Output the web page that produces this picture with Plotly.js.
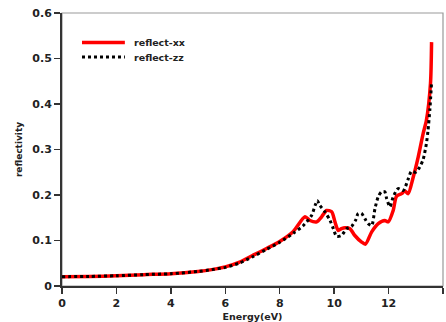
<!DOCTYPE html>
<html>
<head>
<meta charset="utf-8">
<script src="https://cdn.plot.ly/plotly-3.0.1.min.js"></script>
<style>html,body{margin:0;padding:0;background:#fff;}#chart{width:446px;height:322px;}</style>
</head>
<body>
<div id="chart"></div>
<script>
// Energy (eV) and reflectivity for each polarization
var energyXX = [0, 1, 2, 3, 4, 5, 5.5, 6, 6.5, 7, 7.5, 8, 8.5, 8.93, 9.11, 9.36, 9.54, 9.72, 9.91, 10.03, 10.15, 10.27, 10.4, 10.58, 10.76, 11.0, 11.15, 11.38, 11.62, 11.86, 11.99, 12.17, 12.29, 12.48, 12.6, 12.72, 12.9, 13.09, 13.27, 13.39, 13.54, 13.58];
var reflectXX = [0.0205, 0.021, 0.0225, 0.025, 0.027, 0.032, 0.036, 0.042, 0.052, 0.067, 0.082, 0.098, 0.120, 0.152, 0.144, 0.141, 0.152, 0.166, 0.163, 0.141, 0.122, 0.126, 0.128, 0.126, 0.111, 0.097, 0.092, 0.119, 0.137, 0.144, 0.141, 0.166, 0.197, 0.203, 0.209, 0.203, 0.238, 0.284, 0.335, 0.364, 0.445, 0.536];

var energyZZ = [0, 1, 2, 3, 4, 5, 5.5, 6, 6.5, 7, 7.5, 8, 8.5, 8.87, 9.17, 9.3, 9.38, 9.48, 9.66, 9.85, 9.97, 10.09, 10.27, 10.46, 10.64, 10.8, 10.88, 11.0, 11.13, 11.25, 11.38, 11.5, 11.62, 11.74, 11.86, 11.93, 12.05, 12.17, 12.35, 12.54, 12.72, 12.84, 13.0, 13.15, 13.27, 13.39, 13.45, 13.52, 13.58];
var reflectZZ = [0.0205, 0.021, 0.0225, 0.025, 0.027, 0.032, 0.036, 0.041, 0.050, 0.064, 0.080, 0.096, 0.116, 0.133, 0.155, 0.177, 0.188, 0.177, 0.163, 0.144, 0.126, 0.109, 0.111, 0.126, 0.131, 0.146, 0.159, 0.160, 0.148, 0.137, 0.133, 0.170, 0.196, 0.207, 0.207, 0.192, 0.174, 0.196, 0.214, 0.210, 0.235, 0.252, 0.250, 0.262, 0.278, 0.313, 0.342, 0.390, 0.448];

var seriesNames = ['reflect-xx', 'reflect-zz'];
var xTicks = [0, 2, 4, 6, 8, 10, 12, 14];
var yTicks = [0, 0.1, 0.2, 0.3, 0.4, 0.5, 0.6];

var FONT = 'DejaVu Sans, Verdana, sans-serif';
var lineStyles = [
  {color: '#ff0000', width: 3.5},
  {color: '#000000', width: 3, dash: '3px,3px'}
];

var traces = [
  {x: energyXX, y: reflectXX, name: seriesNames[0], type: 'scatter', mode: 'lines',
   line: Object.assign({shape: 'spline', smoothing: 0.7}, lineStyles[0])},
  {x: energyZZ, y: reflectZZ, name: seriesNames[1], type: 'scatter', mode: 'lines',
   line: Object.assign({shape: 'spline', smoothing: 0.7}, lineStyles[1])}
];

// Legend drawn in paper coordinates (keys at top-left inside the plot)
var legendY = [0.8916, 0.8388];
var shapes = [{type: 'rect', xref: 'paper', yref: 'paper', x0: 0, x1: 1, y0: 0, y1: 1,
               line: {color: '#999', width: 1.2}, layer: 'below'}];
var annotations = [];
seriesNames.forEach(function (nm, i) {
  shapes.push({type: 'line', xref: 'paper', yref: 'paper', x0: 0.0525, x1: 0.165,
               y0: legendY[i], y1: legendY[i], line: lineStyles[i]});
  annotations.push({xref: 'paper', yref: 'paper', x: 0.1837, y: legendY[i], xanchor: 'left', yanchor: 'middle',
                    text: nm, showarrow: false,
                    font: {family: FONT, size: 9.5, weight: 'bold', color: '#222'}});
});

var layout = {
  width: 446, height: 322,
  margin: {l: 62, r: 3, t: 13, b: 36},
  paper_bgcolor: '#fff', plot_bgcolor: '#fff',
  showlegend: false,
  xaxis: {range: [0, 14], tickvals: xTicks, ticks: 'outside', ticklen: 6, tickwidth: 1.5, tickcolor: '#333',
          showline: true, linecolor: '#333', linewidth: 2, showgrid: false, zeroline: false,
          tickfont: {family: FONT, size: 11, weight: 'bold', color: '#222'},
          title: {text: 'Energy(eV)', font: {family: FONT, size: 9.5, weight: 'bold', color: '#222'}, standoff: 9}},
  yaxis: {range: [0, 0.6], tickvals: yTicks, ticks: 'outside', ticklen: 6, tickwidth: 1.5, tickcolor: '#333',
          showline: true, linecolor: '#333', linewidth: 2, showgrid: false, zeroline: false,
          tickfont: {family: FONT, size: 11, weight: 'bold', color: '#222'},
          title: {text: 'reflectivity', font: {family: FONT, size: 9, weight: 'bold', color: '#222'}, standoff: 8}},
  shapes: shapes,
  annotations: annotations
};

Plotly.newPlot('chart', traces, layout, {staticPlot: true, displayModeBar: false});
</script>
</body>
</html>
